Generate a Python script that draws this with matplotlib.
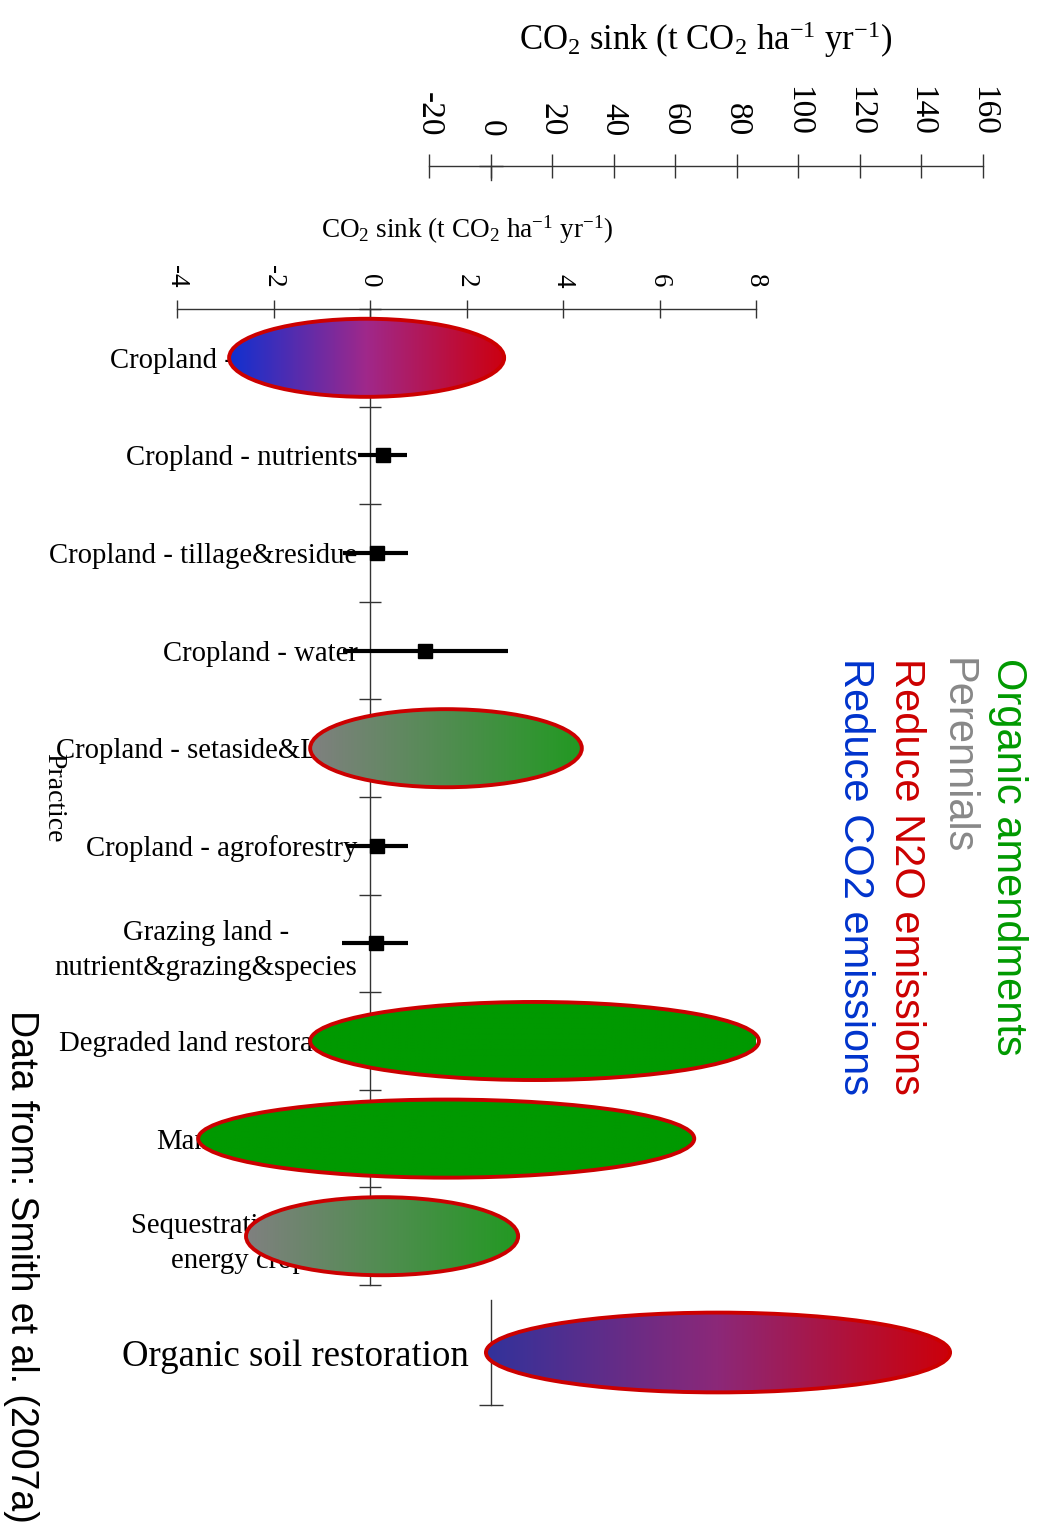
import numpy as np
import matplotlib
matplotlib.use("Agg")
import matplotlib.pyplot as plt
from matplotlib.patches import Ellipse

plt.rcParams['font.family'] = ['Liberation Serif', 'DejaVu Serif']
plt.rcParams['mathtext.fontset'] = 'custom'
plt.rcParams['mathtext.rm'] = 'Liberation Serif'
plt.rcParams['mathtext.it'] = 'Liberation Serif:italic'

# practices (top to bottom) and the CO2 sink range
practices = ["Cropland - agronomy", "Cropland - nutrients", "Cropland - tillage&residue",
             "Cropland - water", "Cropland - setaside&LUC", "Cropland - agroforestry",
             "Grazing land -\nnutrient&grazing&species", "Degraded land restoration",
             "Manure/biosolids", "Sequestration - bio-\nenergy crops"]
sink_low = [-2.92, -0.25, -0.56, -0.56, -1.24, -0.48, -0.58, -1.24, -3.56, -2.57]
sink_high = [2.78, 0.77, 0.79, 2.86, 4.39, 0.79, 0.79, 8.06, 6.72, 3.07]
sink_mean = [np.nan, 0.26, 0.15, 1.14, np.nan, 0.15, 0.12, np.nan, np.nan, np.nan]
# what the mark is: error bar or ellipse filled by mitigation type
fill_kind = ['co2_n2o', 'bar', 'bar', 'bar', 'perennial', 'bar', 'bar', 'organic', 'organic', 'perennial']

organic_soil_label = "Organic soil restoration"
organic_soil_low = -1.5
organic_soil_high = 149.3

main_ticks = [-4, -2, 0, 2, 4, 6, 8]
soil_ticks = [-20, 0, 20, 40, 60, 80, 100, 120, 140, 160]

legend_labels = ["Organic amendments", "Perennials", "Reduce N2O emissions", "Reduce CO2 emissions"]
legend_colors = ["#009900", "#888888", "#cc0000", "#0033cc"]

gradients = {
    'co2_n2o': [(16, 48, 208), (160, 40, 138), (204, 0, 16)],
    'perennial': [(128, 128, 128), (34, 153, 34)],
    'organic': [(0, 153, 0), (0, 153, 0)],
    'soil': [(50, 50, 155), (140, 40, 120), (204, 0, 10)],
}

W, H = 1040, 1529
fig = plt.figure(figsize=(W / 100, H / 100), dpi=100)


def px_rect(l, t, r, b):
    return [l / W, 1 - b / H, (r - l) / W, (b - t) / H]


def draw_ellipse(ax, lo, hi, yc, h, kind):
    edge = Ellipse(((lo + hi) / 2, yc), hi - lo, h, facecolor='none',
                   edgecolor='#cc0000', lw=2.8, zorder=4.2, clip_on=False)
    ax.add_patch(edge)
    cols = np.array(gradients[kind]) / 255.0
    pos = np.linspace(0, 1, 256)
    stops = np.linspace(0, 1, len(cols))
    rgb = np.stack([np.interp(pos, stops, cols[:, k]) for k in range(3)], axis=-1)[None, :, :]
    im = ax.imshow(rgb, extent=[lo, hi, yc + h / 2, yc - h / 2], aspect='auto',
                   zorder=4, interpolation='bilinear')
    im.set_clip_path(edge)


axis_col = '#333333'

# ---- main chart ----
ax = fig.add_axes(px_rect(177, 309, 756, 1285))
n = len(practices)
ypos = np.arange(n)
for i in range(n):
    if fill_kind[i] == 'bar':
        ax.errorbar(sink_mean[i], ypos[i],
                    xerr=[[sink_mean[i] - sink_low[i]], [sink_high[i] - sink_mean[i]]],
                    fmt='s', color='black', ms=10, elinewidth=3, capsize=0, zorder=4)
    else:
        draw_ellipse(ax, sink_low[i], sink_high[i], ypos[i], 0.8, fill_kind[i])

ax.set_xlim(-4, 8)
ax.set_ylim(n - 0.5, -0.5)
for s in ['right', 'bottom']:
    ax.spines[s].set_visible(False)
ax.spines['left'].set_position(('data', 0))
for s in ['left', 'top']:
    ax.spines[s].set_color(axis_col)
    ax.spines[s].set_linewidth(1)
ax.xaxis.tick_top()
ax.set_xticks(main_ticks)
ax.set_xticklabels([str(t) for t in main_ticks], rotation=-90, fontsize=19.5)
ax.tick_params(axis='x', direction='inout', length=13, width=1, color=axis_col, pad=9)
ax.set_yticks(ypos)
ax.set_yticklabels(practices, fontsize=20.7, multialignment='center', linespacing=1.45)
ax.tick_params(axis='y', which='major', length=0, pad=9)
ax.set_yticks(np.arange(n + 1) - 0.5, minor=True)
ax.tick_params(axis='y', which='minor', direction='inout', length=16, width=1, color=axis_col)
ax.patch.set_alpha(0)

fig.text(467 / W, 1 - 230 / H, r'CO$_2$ sink (t CO$_2$ ha$^{-1}$ yr$^{-1}$)',
         ha='center', va='center', fontsize=19.5)

# ---- organic soil restoration (own scale) ----
ax_t = fig.add_axes(px_rect(429, 166, 983, 180))
ax_t.set_xlim(-20, 160)
ax_t.set_ylim(1, 0)
for s in ['right', 'bottom']:
    ax_t.spines[s].set_visible(False)
ax_t.spines['left'].set_position(('data', 0))
for s in ['left', 'top']:
    ax_t.spines[s].set_color(axis_col)
    ax_t.spines[s].set_linewidth(1)
ax_t.xaxis.tick_top()
ax_t.set_xticks(soil_ticks)
ax_t.set_xticklabels([str(t) for t in soil_ticks], rotation=-90, fontsize=24)
ax_t.tick_params(axis='x', direction='inout', length=17, width=1, color=axis_col, pad=13)
ax_t.set_yticks([0])
ax_t.set_yticklabels([])
ax_t.tick_params(axis='y', direction='inout', length=17, width=1, color=axis_col)
ax_t.patch.set_alpha(0)

fig.text(706 / W, 1 - 40 / H, r'CO$_2$ sink (t CO$_2$ ha$^{-1}$ yr$^{-1}$)',
         ha='center', va='center', fontsize=25)

ax_b = fig.add_axes(px_rect(429, 1300, 983, 1405))
draw_ellipse(ax_b, organic_soil_low, organic_soil_high, 0, 0.76, 'soil')
ax_b.set_xlim(-20, 160)
ax_b.set_ylim(0.5, -0.5)
for s in ['right', 'bottom', 'top']:
    ax_b.spines[s].set_visible(False)
ax_b.spines['left'].set_position(('data', 0))
ax_b.spines['left'].set_color(axis_col)
ax_b.spines['left'].set_linewidth(1)
ax_b.set_xticks([])
ax_b.set_yticks([0])
ax_b.set_yticklabels([organic_soil_label], fontsize=26.5)
ax_b.tick_params(axis='y', which='major', length=0, pad=16)
ax_b.set_yticks([0.5], minor=True)
ax_b.tick_params(axis='y', which='minor', direction='inout', length=17, width=1, color=axis_col)
ax_b.patch.set_alpha(0)

# ---- rotated texts ----
fig.text(54 / W, 1 - 753 / H, "Practice", rotation=-90, ha='center', va='top', fontsize=20)

legend_x = [1008, 957, 906, 855]
for lab, col, x in zip(legend_labels, legend_colors, legend_x):
    fig.text(x / W, 1 - 658 / H, lab, rotation=-90, ha='center', va='top',
             fontsize=30, color=col, family='Liberation Sans')

fig.text(21 / W, 1 - 1010 / H, "Data from: Smith et al. (2007a)", rotation=-90,
         ha='center', va='top', fontsize=27, color='black', family='Liberation Sans')

fig.savefig("out.png", dpi=100)
